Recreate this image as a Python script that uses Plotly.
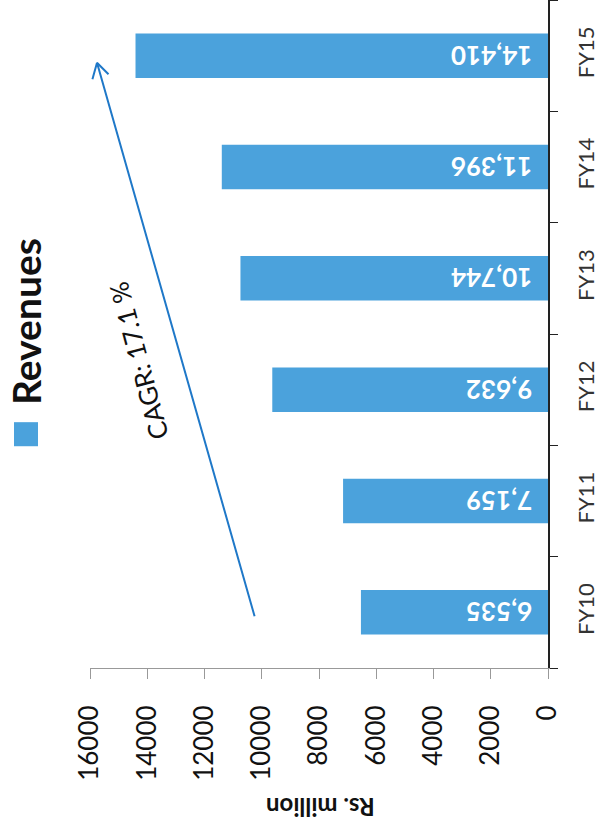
import plotly.graph_objects as go

years = ["FY10", "FY11", "FY12", "FY13", "FY14", "FY15"]
revenues = [6535, 7159, 9632, 10744, 11396, 14410]
value_ticks = [0, 2000, 4000, 6000, 8000, 10000, 12000, 14000, 16000]

BLUE = "#4BA2DC"
ARROW = "#1F78C8"
FONT = "Lato"

fig = go.Figure()

# leading no-break spaces keep the upside-down labels off the axis line
fig.add_trace(
    go.Bar(
        x=revenues,
        y=years,
        orientation="h",
        width=0.4,
        marker=dict(color=BLUE, line=dict(width=0)),
        text=[f"\u00a0\u00a0{v:,}" for v in revenues],
        textposition="inside",
        insidetextanchor="start",
        textangle=180,
        constraintext="none",
        textfont=dict(family=FONT, size=26, color="white", weight="bold"),
        showlegend=False,
    )
)

# CAGR arrow: shaft + open V head, all anchored at the head (paper coords)
head = dict(x=0.0153, y=0.906, xref="paper", yref="paper", text="", showarrow=True,
            arrowhead=0, arrowcolor=ARROW, arrowwidth=2, standoff=0)
fig.add_annotation(**head, ax=158, ay=555)
fig.add_annotation(**head, ax=-5, ay=18)
fig.add_annotation(**head, ax=13, ay=13)

fig.add_annotation(
    x=0.105, y=0.46, xref="paper", yref="paper",
    xanchor="center", yanchor="middle",
    text="CAGR: 17.1 %", showarrow=False, textangle=-105,
    font=dict(family=FONT, size=26, color="#111"),
)

# legend
fig.add_shape(type="rect", xref="paper", yref="paper",
              x0=-0.166, x1=-0.1135, y0=0.332, y1=0.368,
              fillcolor=BLUE, line=dict(width=0))
fig.add_annotation(
    x=-0.1397, y=0.518, xref="paper", yref="paper",
    xanchor="center", yanchor="middle",
    text="<b>Revenues</b>", showarrow=False, textangle=-90,
    font=dict(family=FONT, size=39, color="#111"),
)

fig.add_annotation(
    x=0.502, y=-0.208, xref="paper", yref="paper",
    xanchor="center", yanchor="middle",
    text="<b>Rs. million</b>", showarrow=False, textangle=180,
    font=dict(family=FONT, size=24, color="#111"),
)

fig.update_layout(
    width=603,
    height=828,
    margin=dict(l=90, r=55, t=0, b=160),
    paper_bgcolor="white",
    plot_bgcolor="white",
    bargap=0.6,
)
fig.update_xaxes(
    range=[16000, 0],
    tickvals=value_ticks,
    tickformat="d",
    tickangle=-90,
    tickfont=dict(family=FONT, size=26, color="#111"),
    showgrid=False,
    zeroline=False,
    showline=True,
    linecolor="#999",
    linewidth=1,
    ticks="outside",
    ticklen=10,
    tickcolor="#999",
    ticklabelstandoff=16,
)
fig.update_yaxes(
    type="category",
    categoryarray=years,
    side="right",
    tickangle=-90,
    tickfont=dict(family=FONT, size=22, color="#333"),
    showgrid=False,
    showline=True,
    linecolor="#222",
    linewidth=1.5,
    ticks="outside",
    tickson="boundaries",
    ticklen=8,
    tickcolor="#222",
    ticklabelstandoff=18,
)

fig.write_html(
    "out.html",
    config={"displayModeBar": False},
    post_script="document.body.style.margin='0';",
)
